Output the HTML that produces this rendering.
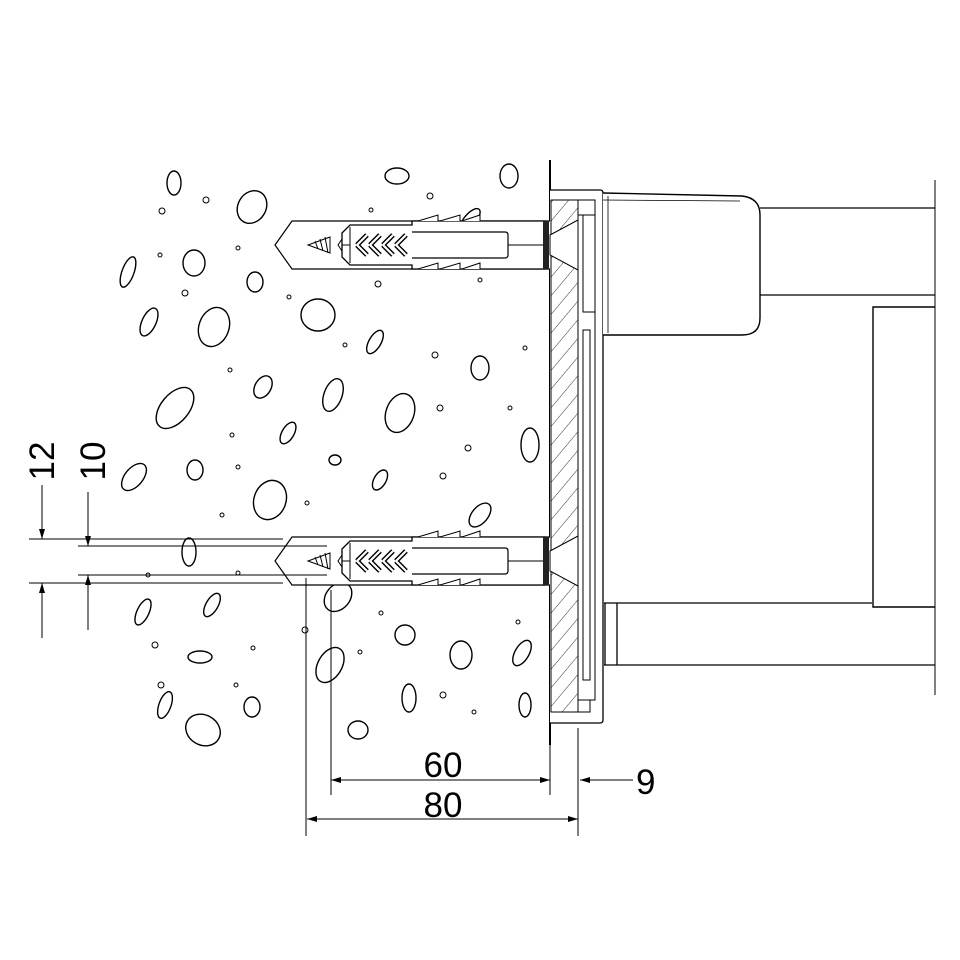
<!DOCTYPE html>
<html><head><meta charset="utf-8"><style>body{margin:0;background:#fff}svg{display:block}</style></head>
<body>
<svg width="960" height="960" viewBox="0 0 960 960" xmlns="http://www.w3.org/2000/svg" font-family="Liberation Sans, sans-serif">
<defs>
<marker id="ar" viewBox="0 0 10 6" refX="10" refY="3" markerWidth="10" markerHeight="6" orient="auto-start-reverse" markerUnits="userSpaceOnUse"><path d="M0,0L10,3L0,6z" fill="#000"/></marker>
<pattern id="hat" width="12" height="12" patternUnits="userSpaceOnUse" patternTransform="rotate(40)"><line x1="0" y1="0" x2="0" y2="12" stroke="#333" stroke-width="1"/></pattern>
<g id="dowel">
<path d="M550,-24 L292,-24 L275,0 L292,24 L550,24" fill="#fff" stroke="#000" stroke-width="1.2"/>
<path d="M308,0 L330,-8 L330,8 Z" fill="#fff" stroke="#000"/>
<path d="M315,-4 L318,4 M320,-6 L323,6 M325,-8 L328,8" stroke="#000"/>
<path d="M342,-12 L350,-20 L412,-20 L412,-24 L545,-24 L545,24 L412,24 L412,20 L350,20 L342,12 Z" fill="#fff" stroke="#000" stroke-width="1.3"/>
<path d="M412,-13 L505,-13 Q508,-13 508,-10 L508,10 Q508,13 505,13 L412,13" fill="none" stroke="#000" stroke-width="1.2"/>
<path d="M342,-6 L338,0 L342,6 M342,0 L350,0 M350,-18 L350,18" stroke="#000" fill="none"/>
<path d="M357,0 L367,-10 M357,0 L367,10 M370,0 L380,-10 M370,0 L380,10 M383,0 L393,-10 M383,0 L393,10 M396,0 L406,-10 M396,0 L406,10" stroke="#000" stroke-width="5" fill="none"/>
<path d="M357,0 L367,-10 M357,0 L367,10 M370,0 L380,-10 M370,0 L380,10 M383,0 L393,-10 M383,0 L393,10 M396,0 L406,-10 M396,0 L406,10" stroke="#fff" stroke-width="2.2" fill="none"/>
<path d="M418,-24 L438,-30 L438,-24 M440,-24 L460,-30 L460,-24 M462,-24 L480,-30 L480,-24 M418,24 L438,18 L438,24 M440,24 L460,18 L460,24 M462,24 L480,18 L480,24" stroke="#000" fill="#fff"/>
<path d="M508,0 L545,0" stroke="#000"/>
<rect x="543" y="-24" width="6" height="48" fill="#222"/>
<path d="M550,-10 L578,-25 L578,25 L550,10 Z" fill="#fff" stroke="#000"/>
</g>
</defs>

<g fill="none" stroke="#000" stroke-width="1.4">
<ellipse cx="174" cy="183" rx="7" ry="12"/><ellipse cx="252" cy="207" rx="14" ry="17" transform="rotate(30 252 207)"/>
<ellipse cx="397" cy="176" rx="12" ry="8"/><ellipse cx="509" cy="176" rx="9" ry="12"/>
<ellipse cx="194" cy="263" rx="11" ry="13"/><ellipse cx="128" cy="272" rx="6" ry="16" transform="rotate(20 128 272)"/>
<ellipse cx="255" cy="282" rx="8" ry="10"/><ellipse cx="149" cy="322" rx="7" ry="15" transform="rotate(25 149 322)"/>
<ellipse cx="214" cy="327" rx="15" ry="20" transform="rotate(20 214 327)"/>
<ellipse cx="318" cy="315" rx="17" ry="16"/><ellipse cx="375" cy="342" rx="6" ry="13" transform="rotate(30 375 342)"/>
<ellipse cx="480" cy="368" rx="9" ry="12"/><ellipse cx="175" cy="408" rx="14" ry="24" transform="rotate(40 175 408)"/>
<ellipse cx="263" cy="387" rx="8" ry="12" transform="rotate(30 263 387)"/>
<ellipse cx="333" cy="395" rx="9" ry="17" transform="rotate(20 333 395)"/>
<ellipse cx="400" cy="413" rx="14" ry="20" transform="rotate(20 400 413)"/>
<ellipse cx="288" cy="433" rx="6" ry="12" transform="rotate(30 288 433)"/>
<ellipse cx="530" cy="445" rx="9" ry="17"/><ellipse cx="134" cy="477" rx="9" ry="16" transform="rotate(40 134 477)"/>
<ellipse cx="195" cy="470" rx="8" ry="10"/><ellipse cx="270" cy="500" rx="16" ry="20" transform="rotate(20 270 500)"/>
<ellipse cx="335" cy="460" rx="6" ry="5"/><ellipse cx="380" cy="480" rx="6" ry="11" transform="rotate(30 380 480)"/>
<ellipse cx="480" cy="515" rx="8" ry="14" transform="rotate(40 480 515)"/>
<ellipse cx="189" cy="552" rx="7" ry="14"/><ellipse cx="143" cy="612" rx="6" ry="14" transform="rotate(25 143 612)"/>
<ellipse cx="212" cy="605" rx="6" ry="13" transform="rotate(30 212 605)"/>
<ellipse cx="338" cy="597" rx="12" ry="16" transform="rotate(40 338 597)"/>
<ellipse cx="405" cy="635" rx="10" ry="10"/><ellipse cx="461" cy="655" rx="11" ry="14"/>
<ellipse cx="200" cy="657" rx="12" ry="6"/><ellipse cx="330" cy="665" rx="12" ry="19" transform="rotate(30 330 665)"/>
<ellipse cx="522" cy="653" rx="7" ry="14" transform="rotate(30 522 653)"/>
<ellipse cx="165" cy="705" rx="6" ry="14" transform="rotate(20 165 705)"/>
<ellipse cx="203" cy="730" rx="18" ry="15" transform="rotate(30 203 730)"/>
<ellipse cx="252" cy="707" rx="8" ry="10"/><ellipse cx="409" cy="698" rx="7" ry="14"/>
<ellipse cx="358" cy="730" rx="10" ry="9"/><ellipse cx="525" cy="705" rx="6" ry="12"/>
<ellipse cx="470" cy="220" rx="6" ry="14" transform="rotate(40 470 220)"/>
</g>
<g fill="none" stroke="#000" stroke-width="1">
<circle cx="206" cy="200" r="3"/><circle cx="162" cy="211" r="3"/><circle cx="371" cy="210" r="2"/><circle cx="430" cy="196" r="3"/>
<circle cx="238" cy="248" r="2"/><circle cx="160" cy="255" r="2"/><circle cx="289" cy="297" r="2"/><circle cx="185" cy="293" r="3"/>
<circle cx="378" cy="284" r="3"/><circle cx="480" cy="280" r="2"/><circle cx="230" cy="370" r="2"/><circle cx="345" cy="345" r="2"/>
<circle cx="435" cy="355" r="3"/><circle cx="525" cy="348" r="2"/><circle cx="232" cy="435" r="2"/><circle cx="440" cy="408" r="3"/>
<circle cx="510" cy="408" r="2"/><circle cx="468" cy="448" r="3"/><circle cx="238" cy="467" r="2"/><circle cx="307" cy="503" r="2"/>
<circle cx="443" cy="476" r="3"/><circle cx="222" cy="515" r="2"/><circle cx="305" cy="630" r="3"/><circle cx="238" cy="573" r="2"/>
<circle cx="148" cy="575" r="2"/><circle cx="155" cy="645" r="3"/><circle cx="253" cy="648" r="2"/><circle cx="381" cy="613" r="2"/>
<circle cx="443" cy="695" r="3"/><circle cx="474" cy="712" r="2"/><circle cx="236" cy="685" r="2"/><circle cx="360" cy="652" r="2"/>
<circle cx="161" cy="685" r="3"/><circle cx="518" cy="622" r="2"/>
</g>

<line x1="550" y1="160" x2="550" y2="745" stroke="#000" stroke-width="2"/>

<path d="M550,190 L600,190 Q603,190 603,193 L603,720 Q603,723 600,723 L550,723" fill="#fff" stroke="#000" stroke-width="1.3"/>
<rect x="551" y="200" width="27" height="512" fill="url(#hat)" stroke="#000"/>
<path d="M578,200 L595,200 L595,215 L578,215 M583,215 L583,312 L595,312 L595,700 L578,700" fill="none" stroke="#000"/>
<path d="M583,330 L583,680 L590,680 L590,330 Z M590,700 L590,712 L578,712" fill="none" stroke="#000"/>
<line x1="595" y1="215" x2="595" y2="312" stroke="#000"/>

<use href="#dowel" transform="translate(0,245)"/>
<use href="#dowel" transform="translate(0,561)"/>

<path d="M603,193 L742,196 Q760,198 760,215 L760,318 Q760,335 742,335 L603,335" fill="#fff" stroke="#000" stroke-width="1.4"/>
<path d="M608,196 L608,333 M603,200 L740,201" fill="none" stroke="#000" stroke-width="0.8"/>
<path d="M760,208 L935,208 M760,295 L935,295" stroke="#000" stroke-width="1.2"/>
<line x1="935" y1="180" x2="935" y2="695" stroke="#000" stroke-width="1"/>
<path d="M935,307 L873,307 L873,607 L935,607" fill="none" stroke="#000" stroke-width="1.4"/>
<path d="M604,603 L872,603 M604,665 L935,665 M605,603 L605,665 M617,603 L617,665" fill="none" stroke="#000" stroke-width="1.3"/>

<g stroke="#000" stroke-width="1" fill="none">
<line x1="29" y1="539" x2="283" y2="539"/><line x1="78" y1="546" x2="327" y2="546"/>
<line x1="78" y1="575" x2="327" y2="575"/><line x1="29" y1="583" x2="283" y2="583"/>
<line x1="42" y1="485" x2="42" y2="539" marker-end="url(#ar)"/>
<line x1="42" y1="638" x2="42" y2="583" marker-end="url(#ar)"/>
<line x1="88" y1="492" x2="88" y2="546" marker-end="url(#ar)"/>
<line x1="88" y1="630" x2="88" y2="575" marker-end="url(#ar)"/>
<line x1="306" y1="578" x2="306" y2="836"/><line x1="331" y1="590" x2="331" y2="795"/>
<line x1="550" y1="745" x2="550" y2="795"/><line x1="578" y1="728" x2="578" y2="836"/>
<line x1="331" y1="780" x2="550" y2="780" marker-start="url(#ar)" marker-end="url(#ar)"/>
<line x1="307" y1="819" x2="578" y2="819" marker-start="url(#ar)" marker-end="url(#ar)"/>
<line x1="633" y1="780" x2="580" y2="780" marker-end="url(#ar)"/>
</g>
<g font-size="35" fill="#000">
<text x="443" y="777" text-anchor="middle">60</text>
<text x="443" y="817" text-anchor="middle">80</text>
<text x="636" y="794">9</text>
<text transform="translate(54,461) rotate(-90)" text-anchor="middle">12</text>
<text transform="translate(105,461) rotate(-90)" text-anchor="middle">10</text>
</g>
</svg>
</body></html>
